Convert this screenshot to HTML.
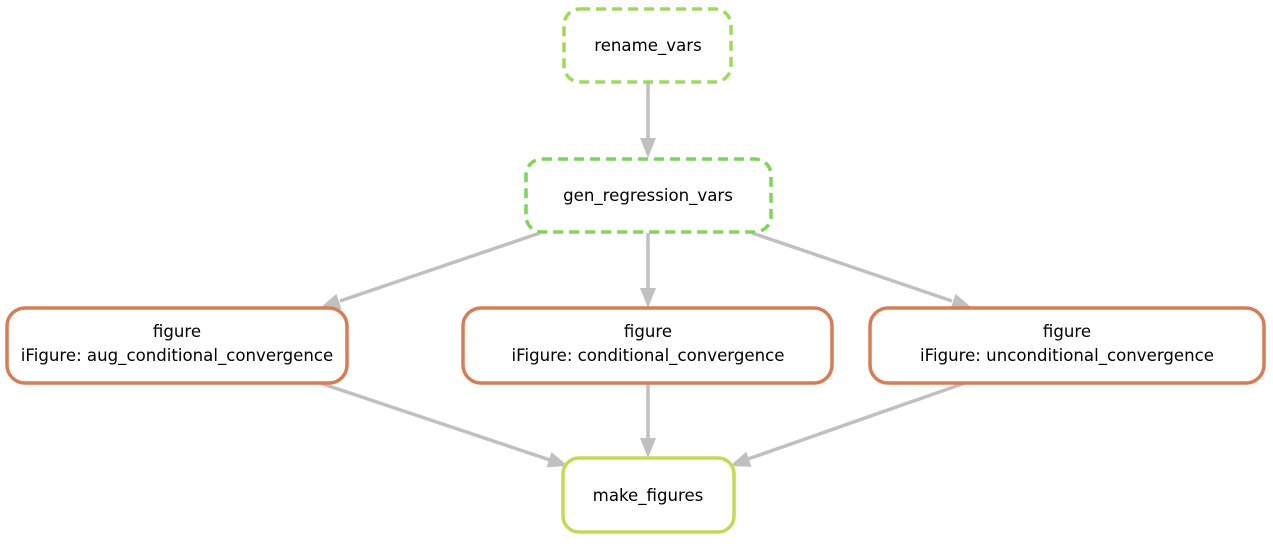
<!DOCTYPE html>
<html><head><meta charset="utf-8"><style>
html,body{margin:0;padding:0;background:#fff;}
svg text{font-family:"DejaVu Sans","Liberation Sans",sans-serif;font-size:16.6px;fill:#000;text-anchor:middle;}
</style></head><body>
<svg width="1273" height="542" viewBox="0 0 1273 542" xmlns="http://www.w3.org/2000/svg">
<g stroke="#c0c0c0" stroke-width="3.5" fill="none">
<line x1="648" y1="83" x2="648" y2="139"/>
<line x1="540" y1="233" x2="340" y2="301"/>
<line x1="648" y1="233" x2="648" y2="289"/>
<line x1="752" y1="233" x2="952" y2="301"/>
<line x1="320" y1="383" x2="550" y2="460"/>
<line x1="648" y1="383" x2="648" y2="439"/>
<line x1="965" y1="383" x2="748" y2="459"/>
</g>
<g fill="#c0c0c0">
<polygon points="640,138 656,138 648,158"/>
<polygon points="341.6,309.1 336.4,293.9 320,308"/>
<polygon points="640,288 656,288 648,308"/>
<polygon points="950.4,309.1 955.6,293.9 972,308"/>
<polygon points="546.5,467.3 551.5,452.1 568,466"/>
<polygon points="640,438 656,438 648,458"/>
<polygon points="751.6,466.9 746.2,451.7 730,466"/>
</g>
<g fill="#fff" stroke-width="3.5">
<rect x="564" y="9" width="167" height="73" rx="16" stroke="#a0d95a" stroke-dasharray="10,6"/>
<rect x="526" y="159" width="245" height="73" rx="16" stroke="#7dd65a" stroke-dasharray="10,6"/>
<rect x="7" y="308" width="340" height="75" rx="18" stroke="#d97b55"/>
<rect x="463" y="308" width="369" height="75" rx="18" stroke="#d97b55"/>
<rect x="870" y="308" width="394" height="75" rx="18" stroke="#d97b55"/>
<rect x="563" y="458" width="171" height="74" rx="16" stroke="#c6d957"/>
</g>
<text x="648" y="51">rename_vars</text>
<text x="648" y="201">gen_regression_vars</text>
<text x="177" y="337">figure</text>
<text x="177" y="361">iFigure: aug_conditional_convergence</text>
<text x="648" y="337">figure</text>
<text x="648" y="361">iFigure: conditional_convergence</text>
<text x="1067" y="337">figure</text>
<text x="1067" y="361">iFigure: unconditional_convergence</text>
<text x="648" y="501">make_figures</text>
</svg>
</body></html>
